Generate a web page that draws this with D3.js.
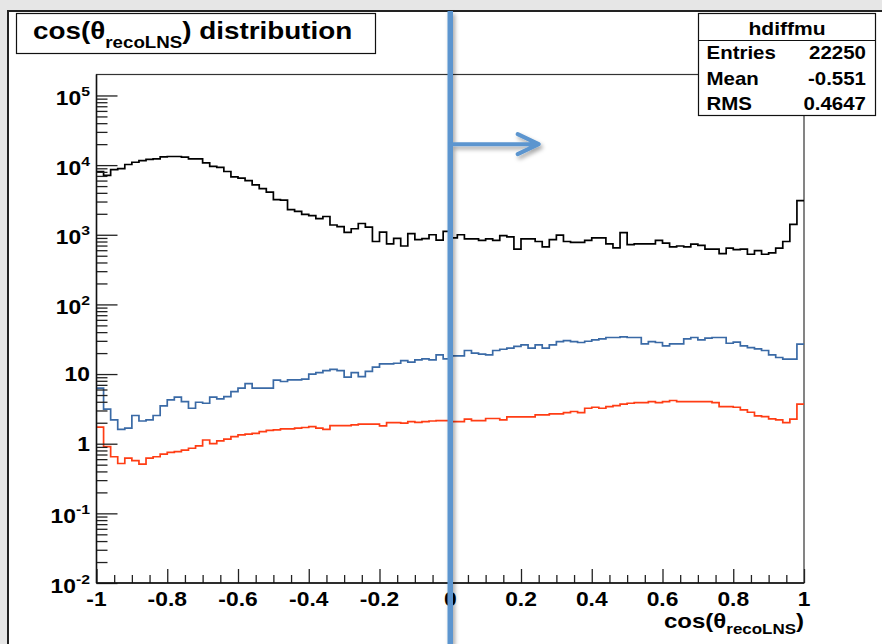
<!DOCTYPE html>
<html>
<head>
<meta charset="utf-8">
<script src="https://cdn.jsdelivr.net/npm/d3@7"></script>
<style>
  html, body { margin: 0; padding: 0; background: #e6e6e6; }
  svg { display: block; }
  text { font-family: "Liberation Sans", Arial, Helvetica, sans-serif; font-weight: bold; fill: #000; }
</style>
</head>
<body>
<svg id="c" width="882" height="644"></svg>
<script>
// Histogram binning of cos(theta_recoLNS): 100 bins on [-1, 1]
const nBins = 100, xMin = -1, xMax = 1;

// Total (hdiffmu), entries per bin
const totalCounts = [
  8100, 7100, 8600, 8900, 10200, 11000, 11600, 12100, 12300, 13100,
  13300, 13300, 13000, 12300, 12300, 10800, 9600, 9300, 8100, 6800,
  6500, 6000, 5200, 4600, 4100, 3200, 3150, 2300, 2170, 1960,
  1880, 1700, 1830, 1380, 1310, 1080, 1220, 1450, 1290, 800,
  1090, 740, 890, 690, 1040, 850, 880, 1000, 840, 1120,
  900, 1000, 875, 875, 830, 870, 830, 975, 930, 620,
  870, 870, 800, 670, 850, 985, 800, 775, 775, 830,
  900, 900, 740, 650, 1070, 720, 740, 740, 740, 830,
  760, 670, 690, 670, 735, 705, 620, 620, 535, 645,
  610, 620, 525, 590, 525, 550, 645, 800, 1410, 3100
];

// Weighted component drawn in blue
const blueCounts = [
  6.27, 3.13, 2.20, 1.61, 1.67, 2.54, 2.12, 2.20, 2.54, 3.49,
  4.26, 4.65, 4.03, 3.23, 3.94, 3.81, 4.65, 4.41, 4.75, 5.61,
  6.27, 7.31, 6.27, 6.27, 6.27, 8.17, 7.82, 8.26, 8.26, 8.43,
  9.95, 10.5, 11.2, 11.7, 11.2, 9.02, 10.5, 9.20, 10.9, 12.6,
  14.0, 14.0, 14.3, 15.6, 14.8, 16.0, 16.5, 16.0, 18.9, 16.5,
  18.2, 18.2, 21.8, 20.0, 19.3, 18.9, 21.8, 22.7, 23.6, 24.9,
  26.2, 23.6, 26.2, 23.6, 26.2, 29.3, 30.3, 29.3, 28.4, 29.6,
  31.0, 32.1, 33.5, 33.5, 34.2, 33.5, 33.5, 27.2, 29.3, 28.4,
  25.4, 27.2, 27.2, 32.1, 33.5, 31.0, 32.7, 33.5, 33.5, 27.7,
  28.7, 25.4, 24.0, 23.0, 21.8, 18.9, 17.3, 16.4, 16.4, 26.9
];

// Weighted component drawn in red
const redCounts = [
  1.73, 0.91, 0.65, 0.52, 0.62, 0.57, 0.51, 0.62, 0.65, 0.71,
  0.75, 0.77, 0.81, 0.86, 0.93, 1.13, 1.00, 1.10, 1.16, 1.26,
  1.34, 1.37, 1.41, 1.49, 1.55, 1.58, 1.63, 1.63, 1.67, 1.71,
  1.76, 1.67, 1.61, 1.82, 1.82, 1.82, 1.86, 1.91, 1.91, 1.91,
  1.80, 2.01, 2.01, 1.97, 2.08, 2.03, 2.08, 2.12, 2.15, 2.15,
  2.08, 2.08, 2.25, 2.15, 2.15, 2.30, 2.30, 2.20, 2.43, 2.43,
  2.43, 2.43, 2.59, 2.59, 2.68, 2.68, 2.80, 2.90, 2.80, 3.23,
  3.34, 3.23, 3.41, 3.53, 3.69, 3.81, 3.90, 3.90, 4.03, 3.90,
  4.03, 4.17, 4.03, 4.03, 4.03, 4.03, 4.03, 3.90, 3.41, 3.41,
  3.34, 3.05, 2.83, 2.51, 2.45, 2.27, 2.20, 2.01, 2.25, 3.69
];

// Axis ticks and labels
const xMajorTicks = [-1, -0.8, -0.6, -0.4, -0.2, 0, 0.2, 0.4, 0.6, 0.8, 1];
const xTickLabels = ["-1", "-0.8", "-0.6", "-0.4", "-0.2", "0", "0.2", "0.4", "0.6", "0.8", "1"];
const yMajorTicks = [1e-2, 1e-1, 1, 10, 1e2, 1e3, 1e4, 1e5];
const yTickBase = ["10", "10", "1", "10", "10", "10", "10", "10"];
const yTickSup = ["-2", "-1", "", "", "2", "3", "4", "5"];

// Statistics box
const statsName = "hdiffmu";
const statsLabels = ["Entries", "Mean", "RMS"];
const statsValues = ["22250", "-0.551", "0.4647"];

// Cut marker: cos = 0, arrow drawn at the 2e4 level towards cos = 0.25
const markerCut = 0, arrowLevel = 2e4, arrowEnd = 0.25;

const colors = { total: "#000000", blue: "#3a6aa6", red: "#ff3d14", marker: "#5b95cf" };

// ---------------------------------------------------------------
const svg = d3.select("#c");
const W = 882, H = 644;
const frame = { left: 96.5, right: 804, top: 74.5, bottom: 583 };
const sx = 1.17; // horizontal glyph stretch of the text

const defs = svg.append("defs");
const sh = defs.append("filter").attr("id", "shadow")
  .attr("x", "-50%").attr("y", "-50%").attr("width", "200%").attr("height", "200%");
sh.append("feDropShadow").attr("dx", 2).attr("dy", 3).attr("stdDeviation", 2)
  .attr("flood-color", "#000").attr("flood-opacity", 0.35);

// canvas
svg.append("rect").attr("x", 0).attr("y", 0).attr("width", W).attr("height", H).attr("fill", "#e6e6e6");
svg.append("rect").attr("x", 8).attr("y", 11).attr("width", W - 8).attr("height", H - 11).attr("fill", "#fff");
svg.append("path").attr("d", `M8,${H}V11H${W}`).attr("fill", "none").attr("stroke", "#222").attr("stroke-width", 2);

const x = d3.scaleLinear().domain([xMin, xMax]).range([frame.left, frame.right]);
const y = d3.scaleLog().domain([1e-2, 2e5]).range([frame.bottom, frame.top]);

function stretchedText(g, px, py, anchor) {
  return g.append("text")
    .attr("transform", `translate(${px},${py}) scale(${sx},1)`)
    .attr("text-anchor", anchor || "start");
}

// frame
svg.append("rect")
  .attr("x", frame.left).attr("y", frame.top)
  .attr("width", frame.right - frame.left).attr("height", frame.bottom - frame.top)
  .attr("fill", "none").attr("stroke", "#333").attr("stroke-width", 1.2);

// histograms
const binW = (xMax - xMin) / nBins;
function stepPath(counts) {
  const pts = counts.map((v, i) => [xMin + i * binW, v]);
  pts.push([xMax, counts[counts.length - 1]]);
  return d3.line().x(d => x(d[0])).y(d => y(d[1])).curve(d3.curveStepAfter)(pts);
}
const hg = svg.append("g").attr("fill", "none").attr("stroke-width", 1.7).attr("stroke-linejoin", "miter");
hg.append("path").attr("d", stepPath(totalCounts)).attr("stroke", colors.total);
hg.append("path").attr("d", stepPath(blueCounts)).attr("stroke", colors.blue);
hg.append("path").attr("d", stepPath(redCounts)).attr("stroke", colors.red);

// x axis ticks (inside the frame)
const xMinor = d3.range(-20, 21).map(k => k * 0.05).filter(v => !xMajorTicks.some(t => Math.abs(t - v) < 1e-9));
const xAxisMajor = d3.axisTop(x).tickValues(xMajorTicks).tickSize(14).tickFormat("");
const xAxisMinor = d3.axisTop(x).tickValues(xMinor).tickSize(8).tickFormat("");
[xAxisMajor, xAxisMinor].forEach(ax => {
  svg.append("g").attr("transform", `translate(0,${frame.bottom})`).call(ax)
    .call(g => g.select(".domain").remove())
    .selectAll("line").attr("stroke", "#222").attr("stroke-width", 1.3);
});

// y axis ticks (inside the frame)
const yMinor = [];
for (let e = -2; e <= 4; e++) for (let k = 2; k <= 9; k++) yMinor.push(k * Math.pow(10, e));
const yAxisMajor = d3.axisRight(y).tickValues(yMajorTicks).tickSize(21).tickFormat("");
const yAxisMinor = d3.axisRight(y).tickValues(yMinor).tickSize(11).tickFormat("");
[yAxisMajor, yAxisMinor].forEach(ax => {
  svg.append("g").attr("transform", `translate(${frame.left},0)`).call(ax)
    .call(g => g.select(".domain").remove())
    .selectAll("line").attr("stroke", "#222").attr("stroke-width", 1.3);
});
svg.append("line").attr("x1", frame.left).attr("x2", frame.left).attr("y1", frame.top).attr("y2", frame.bottom)
  .attr("stroke", "#111").attr("stroke-width", 1.5);
svg.append("line").attr("x1", frame.left).attr("x2", frame.right).attr("y1", frame.bottom).attr("y2", frame.bottom)
  .attr("stroke", "#111").attr("stroke-width", 1.5);

// x tick labels
xMajorTicks.forEach((v, i) => {
  stretchedText(svg, x(v), 606, "middle").attr("font-size", 19.5).text(xTickLabels[i]);
});

// y tick labels
yMajorTicks.forEach((v, i) => {
  const t = stretchedText(svg, 90, y(v) + (yTickSup[i] ? 9.5 : 6.8), "end").attr("font-size", 19.5);
  t.append("tspan").text(yTickBase[i]);
  if (yTickSup[i]) t.append("tspan").attr("font-size", 13.5).attr("dy", -9).text(yTickSup[i]);
});

// x axis title
{
  const t = stretchedText(svg, 804, 628, "end").attr("font-size", 20.5);
  t.append("tspan").text("cos(θ");
  t.append("tspan").attr("font-size", 14.5).attr("dy", 6).text("recoLNS");
  t.append("tspan").attr("dy", -6).text(")");
}

// title box
svg.append("rect").attr("x", 16.5).attr("y", 13.5).attr("width", 359).attr("height", 40)
  .attr("fill", "#fff").attr("stroke", "#111").attr("stroke-width", 1.2);
{
  const t = stretchedText(svg, 33, 38.5, "start").attr("font-size", 23.8);
  t.append("tspan").text("cos(θ");
  t.append("tspan").attr("font-size", 16).attr("dy", 9).text("recoLNS");
  t.append("tspan").attr("dy", -9).text(") distribution");
}

// statistics box
const sb = { x: 698.5, y: 13.5, w: 177, h: 102 };
svg.append("rect").attr("x", sb.x).attr("y", sb.y).attr("width", sb.w).attr("height", sb.h)
  .attr("fill", "#fff").attr("stroke", "#111").attr("stroke-width", 1.2);
svg.append("line").attr("x1", sb.x).attr("x2", sb.x + sb.w).attr("y1", 40.5).attr("y2", 40.5)
  .attr("stroke", "#111").attr("stroke-width", 1.2);
stretchedText(svg, sb.x + sb.w / 2, 35, "middle").attr("font-size", 18).text(statsName);
statsLabels.forEach((lab, i) => {
  const by = 59 + i * 25.5;
  stretchedText(svg, 706.5, by, "start").attr("font-size", 17.5).text(lab);
  stretchedText(svg, 866, by, "end").attr("font-size", 17.5).text(statsValues[i]);
});

// marker at the cut with an arrow pointing to the forward region
const mg = svg.append("g").attr("filter", "url(#shadow)").attr("stroke", colors.marker).attr("fill", "none");
const ax0 = x(markerCut), ay = y(arrowLevel), ax1 = x(arrowEnd);
mg.append("line").attr("x1", ax0).attr("x2", ax0).attr("y1", 11).attr("y2", H)
  .attr("stroke-width", 5.5);
mg.append("path")
  .attr("d", `M${ax0},${ay}H${ax1}M${ax1 - 21},${ay - 10}L${ax1},${ay}L${ax1 - 21},${ay + 10}`)
  .attr("stroke-width", 4).attr("stroke-linecap", "round").attr("stroke-linejoin", "round");
</script>
</body>
</html>
